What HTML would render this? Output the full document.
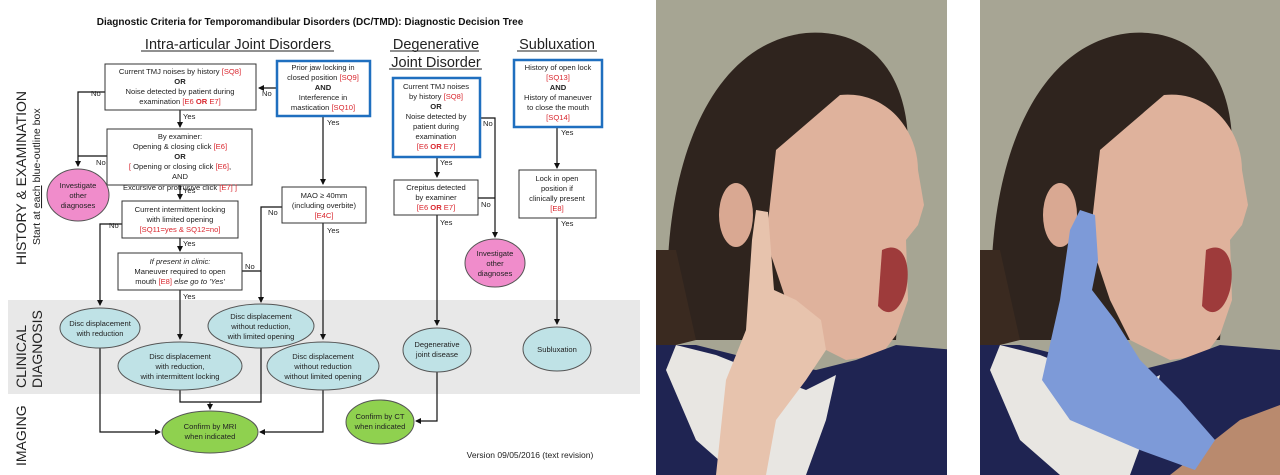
<!DOCTYPE html>
<html><head><meta charset="utf-8"><style>
html,body{margin:0;padding:0;background:#fff;}
svg{display:block;}
text{font-family:"Liberation Sans",Arial,sans-serif;}
.t{font-size:7.6px;fill:#222;text-anchor:middle;}
.r{fill:#d9262e;}
.b{font-weight:bold;}
.l{font-size:7.6px;fill:#222;}
</style></head><body>
<svg width="1280" height="475" viewBox="0 0 1280 475" xmlns="http://www.w3.org/2000/svg">
<defs>
<marker id="a" markerWidth="6" markerHeight="6" refX="5" refY="3" orient="auto" markerUnits="userSpaceOnUse"><path d="M0,0 L6,3 L0,6z" fill="#111"/></marker>
<g id="person">
<path d="M14,340 C0,200 40,45 150,33 C220,28 250,80 252,140 L240,340 Z" fill="#2f241e"/>
<path d="M0,250 L20,250 L40,340 L0,350 Z" fill="#3a2a20"/>
<path d="M184,95 C230,90 262,130 262,170 L268,205 L262,225 L250,240 L252,300 L240,335 L225,355 L190,360 L150,340 L130,300 L110,240 L120,150 Z" fill="#dfb29c"/>
<path d="M226,250 C246,240 256,262 250,290 C244,312 232,318 222,306 Z" fill="#9e3b3b"/>
<ellipse cx="80" cy="215" rx="17" ry="32" fill="#d9a892"/>
<path d="M0,345 L40,345 L100,360 L160,370 L200,360 L240,345 L300,350 L300,475 L0,475 Z" fill="#1f2452"/>
<path d="M20,345 L60,355 L110,375 L150,390 L180,375 L170,420 L150,475 L80,475 L40,440 L10,370 Z" fill="#e8e6e2"/>
</g>
</defs>
<rect x="8" y="300" width="632" height="94" fill="#e8e8e8"/>
<text x="310" y="25" font-size="10" font-weight="bold" text-anchor="middle" fill="#111">Diagnostic Criteria for Temporomandibular Disorders (DC/TMD): Diagnostic Decision Tree</text>
<text x="238" y="49" font-size="14.5" text-anchor="middle" fill="#222">Intra-articular Joint Disorders</text>
<line x1="141" y1="51" x2="334" y2="51" stroke="#222" stroke-width="1"/>
<text x="436" y="49" font-size="14.5" text-anchor="middle" fill="#222">Degenerative</text>
<line x1="390" y1="51" x2="479" y2="51" stroke="#222"/>
<text x="436" y="67" font-size="14.5" text-anchor="middle" fill="#222">Joint Disorder</text>
<line x1="389" y1="69" x2="482" y2="69" stroke="#222"/>
<text x="557" y="49" font-size="14.5" text-anchor="middle" fill="#222">Subluxation</text>
<line x1="517" y1="51" x2="597" y2="51" stroke="#222"/>
<g transform="translate(26,265) rotate(-90)"><text x="0" y="0" font-size="14" fill="#222">HISTORY &amp; EXAMINATION</text></g>
<g transform="translate(40,245) rotate(-90)"><text x="0" y="0" font-size="10.5" fill="#222">Start at <tspan text-decoration="underline">each</tspan> blue-outline box</text></g>
<g transform="translate(26,388) rotate(-90)"><text x="0" y="0" font-size="14" fill="#222">CLINICAL</text></g>
<g transform="translate(42,388) rotate(-90)"><text x="0" y="0" font-size="14" fill="#222">DIAGNOSIS</text></g>
<g transform="translate(26,466) rotate(-90)"><text x="0" y="0" font-size="14" fill="#222">IMAGING</text></g>

<g stroke="#111" stroke-width="1.2" fill="none">
<path d="M105,92 H78 V166" marker-end="url(#a)"/>
<path d="M107,156 H78"/>
<path d="M276,88 H259" marker-end="url(#a)"/>
<path d="M180,110 V127" marker-end="url(#a)"/>
<path d="M180,185 V199" marker-end="url(#a)"/>
<path d="M122,224 H100 V305" marker-end="url(#a)"/>
<path d="M180,238 V251" marker-end="url(#a)"/>
<path d="M242,271 H261"/>
<path d="M282,207 H261 V302" marker-end="url(#a)"/>
<path d="M180,290 V339" marker-end="url(#a)"/>
<path d="M323,116 V184" marker-end="url(#a)"/>
<path d="M323,223 V339" marker-end="url(#a)"/>
<path d="M100,348 V432 H160" marker-end="url(#a)"/>
<path d="M180,390 V402 H261 V348"/>
<path d="M210,402 V409" marker-end="url(#a)"/>
<path d="M323,390 V432 H260" marker-end="url(#a)"/>
<path d="M437,157 V177" marker-end="url(#a)"/>
<path d="M480,118 H495 V237" marker-end="url(#a)"/>
<path d="M478,198 H495"/>
<path d="M437,215 V325" marker-end="url(#a)"/>
<path d="M437,372 V421 H416" marker-end="url(#a)"/>
<path d="M557,127 V168" marker-end="url(#a)"/>
<path d="M557,218 V324" marker-end="url(#a)"/>
</g>
<g class="l">
<text x="91" y="96">No</text><text x="96" y="165">No</text><text x="262" y="96">No</text>
<text x="183" y="119">Yes</text><text x="183" y="193">Yes</text><text x="109" y="228">No</text>
<text x="183" y="246">Yes</text><text x="245" y="269">No</text><text x="268" y="215">No</text>
<text x="183" y="299">Yes</text><text x="327" y="125">Yes</text><text x="327" y="233">Yes</text>
<text x="440" y="165">Yes</text><text x="483" y="126">No</text><text x="481" y="207">No</text>
<text x="440" y="225">Yes</text><text x="561" y="135">Yes</text><text x="561" y="226">Yes</text>
</g>

<rect x="105" y="64" width="151" height="46" fill="#fff" stroke="#333"/>
<text class="t" x="180" y="74">Current TMJ noises by history <tspan class="r">[SQ8]</tspan></text>
<text class="t b" x="180" y="84">OR</text>
<text class="t" x="180" y="94">Noise detected by patient during</text>
<text class="t" x="180" y="104">examination <tspan class="r">[E6 <tspan font-weight="bold">OR</tspan> E7]</tspan></text>

<rect x="277" y="61" width="93" height="55" fill="#fff" stroke="#1f6fbf" stroke-width="2.5"/>
<text class="t" x="323" y="70">Prior jaw locking in</text>
<text class="t" x="323" y="80">closed position <tspan class="r">[SQ9]</tspan></text>
<text class="t b" x="323" y="90">AND</text>
<text class="t" x="323" y="100">Interference in</text>
<text class="t" x="323" y="110">mastication <tspan class="r">[SQ10]</tspan></text>

<rect x="107" y="129" width="145" height="56" fill="#fff" stroke="#333"/>
<text class="t" x="180" y="139">By examiner:</text>
<text class="t" x="180" y="149">Opening &amp; closing click <tspan class="r">[E6]</tspan></text>
<text class="t b" x="180" y="159">OR</text>
<text class="t" x="180" y="169"><tspan class="r">[</tspan> Opening or closing click <tspan class="r">[E6]</tspan>,</text>
<text class="t" x="180" y="179">AND</text>
<text class="t" x="180" y="190">Excursive or protrusive click <tspan class="r">[E7] ]</tspan></text>

<ellipse cx="78" cy="195" rx="31" ry="26" fill="#f08ccb" stroke="#555"/>
<text class="t" x="78" y="188">Investigate</text><text class="t" x="78" y="198">other</text><text class="t" x="78" y="208">diagnoses</text>

<rect x="122" y="201" width="116" height="37" fill="#fff" stroke="#333"/>
<text class="t" x="180" y="212">Current intermittent locking</text>
<text class="t" x="180" y="222">with limited opening</text>
<text class="t r" x="180" y="232">[SQ11=yes &amp; SQ12=no]</text>

<rect x="282" y="187" width="84" height="36" fill="#fff" stroke="#333"/>
<text class="t" x="324" y="198">MAO ≥ 40mm</text>
<text class="t" x="324" y="208">(including overbite)</text>
<text class="t r" x="324" y="218">[E4C]</text>

<rect x="118" y="253" width="124" height="37" fill="#fff" stroke="#333"/>
<text class="t" x="180" y="264" font-style="italic">If present in clinic:</text>
<text class="t" x="180" y="274">Maneuver required to open</text>
<text class="t" x="180" y="284">mouth <tspan class="r">[E8]</tspan> <tspan font-style="italic">else go to 'Yes'</tspan></text>

<g fill="#bfe2e6" stroke="#555">
<ellipse cx="100" cy="328" rx="40" ry="20"/>
<ellipse cx="180" cy="366" rx="62" ry="24"/>
<ellipse cx="261" cy="326" rx="53" ry="22"/>
<ellipse cx="323" cy="366" rx="56" ry="24"/>
<ellipse cx="437" cy="350" rx="34" ry="22"/>
<ellipse cx="557" cy="349" rx="34" ry="22"/>
</g>
<text class="t" x="100" y="326">Disc displacement</text><text class="t" x="100" y="336">with reduction</text>
<text class="t" x="180" y="359">Disc displacement</text><text class="t" x="180" y="369">with reduction,</text><text class="t" x="180" y="379">with intermittent locking</text>
<text class="t" x="261" y="319">Disc displacement</text><text class="t" x="261" y="329">without reduction,</text><text class="t" x="261" y="339">with limited opening</text>
<text class="t" x="323" y="359">Disc displacement</text><text class="t" x="323" y="369">without reduction</text><text class="t" x="323" y="379">without limited opening</text>
<text class="t" x="437" y="347">Degenerative</text><text class="t" x="437" y="357">joint disease</text>
<text class="t" x="557" y="352">Subluxation</text>

<g fill="#8fd14f" stroke="#555">
<ellipse cx="210" cy="432" rx="48" ry="21"/>
<ellipse cx="380" cy="422" rx="34" ry="22"/>
</g>
<text class="t" x="210" y="429">Confirm by MRI</text><text class="t" x="210" y="439">when indicated</text>
<text class="t" x="380" y="419">Confirm by CT</text><text class="t" x="380" y="429">when indicated</text>

<rect x="393" y="78" width="87" height="79" fill="#fff" stroke="#1f6fbf" stroke-width="2.5"/>
<text class="t" x="436" y="89">Current TMJ noises</text>
<text class="t" x="436" y="99">by history <tspan class="r">[SQ8]</tspan></text>
<text class="t b" x="436" y="109">OR</text>
<text class="t" x="436" y="119">Noise detected by</text>
<text class="t" x="436" y="129">patient during</text>
<text class="t" x="436" y="139">examination</text>
<text class="t r" x="436" y="149">[E6 <tspan font-weight="bold">OR</tspan> E7]</text>

<rect x="394" y="180" width="84" height="35" fill="#fff" stroke="#333"/>
<text class="t" x="436" y="190">Crepitus detected</text>
<text class="t" x="436" y="200">by examiner</text>
<text class="t r" x="436" y="210">[E6 <tspan font-weight="bold">OR</tspan> E7]</text>

<ellipse cx="495" cy="263" rx="30" ry="24" fill="#f08ccb" stroke="#555"/>
<text class="t" x="495" y="256">Investigate</text><text class="t" x="495" y="266">other</text><text class="t" x="495" y="276">diagnoses</text>

<rect x="514" y="60" width="88" height="67" fill="#fff" stroke="#1f6fbf" stroke-width="2.5"/>
<text class="t" x="558" y="70">History of open lock</text>
<text class="t r" x="558" y="80">[SQ13]</text>
<text class="t b" x="558" y="90">AND</text>
<text class="t" x="558" y="100">History of maneuver</text>
<text class="t" x="558" y="110">to close the mouth</text>
<text class="t r" x="558" y="120">[SQ14]</text>

<rect x="519" y="170" width="77" height="48" fill="#fff" stroke="#333"/>
<text class="t" x="557" y="181">Lock in open</text>
<text class="t" x="557" y="191">position if</text>
<text class="t" x="557" y="201">clinically present</text>
<text class="t r" x="557" y="211">[E8]</text>

<text x="530" y="458" font-size="8.5" text-anchor="middle" fill="#222">Version 09/05/2016 (text revision)</text>

<!-- Photo 1 -->
<svg x="656" y="0" width="291" height="475" viewBox="0 0 291 475">
<rect width="291" height="475" fill="#a6a593"/>
<use href="#person"/>
<path d="M60,475 L70,380 L90,330 L96,240 L100,210 L112,212 L118,290 L140,300 L165,320 L170,350 L150,380 L120,420 L110,475 Z" fill="#e7c3ad"/>
</svg>
<!-- Photo 2 -->
<svg x="980" y="0" width="300" height="475" viewBox="0 0 300 475">
<rect width="300" height="475" fill="#a7a594"/>
<use href="#person"/>
<path d="M190,475 L260,420 L300,405 L300,475 Z" fill="#b98a6e"/>
<path d="M62,380 L80,300 L90,230 L100,210 L115,215 L118,260 L112,290 L135,320 L160,360 L200,400 L235,440 L215,470 L160,450 L90,420 Z" fill="#7d9ad8"/>
</svg>
</svg>
</body></html>
